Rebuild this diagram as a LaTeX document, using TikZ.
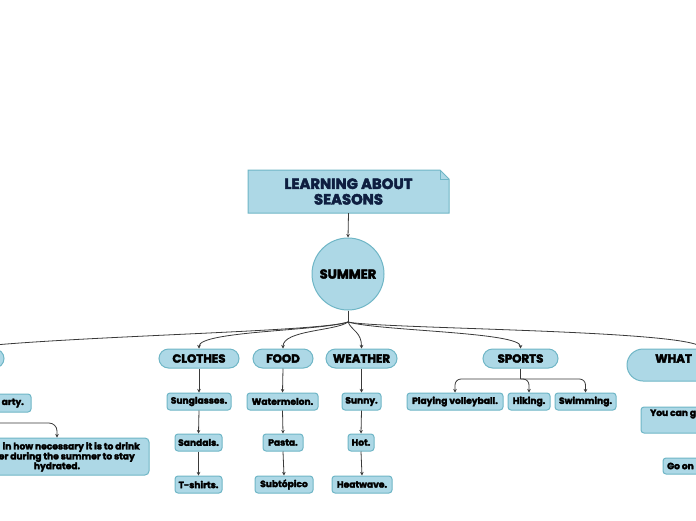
\documentclass[tikz,border=0pt]{standalone}
\usepackage{fontspec}
\setmainfont{Poppins}[BoldFeatures={FakeBold=3}]
\usetikzlibrary{arrows.meta,calc}
\definecolor{boxfill}{HTML}{ADD8E6}
\definecolor{boxline}{HTML}{6FB6C6}
\definecolor{linkc}{HTML}{3A3A3A}
\definecolor{navy}{HTML}{0E1E40}
\tikzset{
  base/.style={fill=boxfill, draw=boxline, line width=1pt, inner sep=0pt, font=\bfseries},
  pill/.style={base, rounded corners=9.5pt, minimum height=19, font=\bfseries\fontsize{11.8}{13}\selectfont},
  leaf/.style={base, rounded corners=3pt, minimum height=17, font=\bfseries\fontsize{9.1}{10}\selectfont},
  txt/.style={inner sep=0pt, font=\bfseries\fontsize{9.1}{10}\selectfont},
  link/.style={draw=linkc, line width=0.8pt, -{Stealth[length=3.5pt,width=3.5pt]}},
  plain/.style={draw=linkc, line width=0.8pt},
}
\begin{document}
\begin{tikzpicture}[x=1pt,y=-1pt]
\clip (0,0) rectangle (696,520);
\fill[white] (0,0) rectangle (696,520);

% title
\coordinate (tnw) at (248,170);
\coordinate (tse) at (449,213);
\filldraw[fill=boxfill, draw=boxline, line width=1pt]
  (tnw) -- (440,170) -- (449,179) -- (tse) -- (248,213) -- cycle;
\draw[boxline, line width=0.8pt] (440,170) -- (440,179) -- (449,179);
\node[inner sep=0pt, minimum width=201, minimum height=43, align=center, text=navy,
      font=\bfseries\fontsize{14.8}{15.5}\selectfont] (title) at (348.5,191.5) {LEARNING ABOUT\\SEASONS};

% central
\node[base, circle, minimum size=72, font=\bfseries\fontsize{13}{14}\selectfont] (summer) at (348,274) {SUMMER};
\draw[link] (title.south) -- (summer.north);

% top-level
\node[pill, minimum width=88] (left) at (-40,358.5) {};
\node[pill, minimum width=80] (clothes) at (199,358.5) {CLOTHES};
\node[pill, minimum width=60] (food) at (283,358.5) {FOOD};
\node[pill, minimum width=71] (weather) at (361.5,358.5) {WEATHER};
\node[pill, minimum width=75] (sports) at (520.5,358.5) {SPORTS};
\node[base, rounded corners=16pt, minimum width=150, minimum height=32] (what) at (702,365) {};
\node[inner sep=0pt, anchor=west, font=\bfseries\fontsize{11.8}{13}\selectfont] (whattxt) at (655,358.5) {WHAT};

\coordinate (fan) at (348,322);
\draw[plain] (summer.south) -- (fan);
\draw[plain] (fan) .. controls (320,332) and (60,336) .. (left.north);
\draw[link] (fan) .. controls (320,331) and (199,331) .. (clothes.north);
\draw[link] (fan) .. controls (336,331) and (283,330) .. (food.north);
\draw[link] (fan) .. controls (352,331) and (361.5,332) .. (weather.north);
\draw[link] (fan) .. controls (380,331) and (520.5,332) .. (sports.north);
\draw[plain] (fan) .. controls (380,329) and (702,330) .. (what.north);

% clothes column
\node[leaf, minimum width=64] (sung) at (199,401.5) {Sunglasses.};
\node[leaf, minimum width=47] (sand) at (198.5,442.5) {Sandals.};
\node[leaf, minimum width=47] (tsh) at (198.5,484.5) {T-shirts.};
\draw[link] (clothes.south) -- (sung.north);
\draw[link] (sung.south) -- (sand.north);
\draw[link] (sand.south) -- (tsh.north);

% food column
\node[leaf, minimum width=71] (water) at (282.5,401.5) {Watermelon.};
\node[leaf, minimum width=40] (pasta) at (283,442.5) {Pasta.};
\node[leaf, minimum width=58] (subt) at (284,484.5) {Subtópico};
\draw[link] (food.south) -- (water.north);
\draw[link] (water.south) -- (pasta.north);
\draw[link] (pasta.south) -- (subt.north);

% weather column
\node[leaf, minimum width=39] (sunny) at (361.5,401.5) {Sunny.};
\node[leaf, minimum width=26] (hot) at (361,442.5) {Hot.};
\node[leaf, minimum width=60] (heat) at (362,484.5) {Heatwave.};
\draw[link] (weather.south) -- (sunny.north);
\draw[link] (sunny.south) -- (hot.north);
\draw[link] (hot.south) -- (heat.north);

% sports
\node[leaf, minimum width=96] (volley) at (455,401.5) {Playing volleyball.};
\node[leaf, minimum width=42] (hike) at (529,401.5) {Hiking.};
\node[leaf, minimum width=61] (swim) at (585.5,401.5) {Swimming.};
\coordinate (sb) at (520.5,379);
\draw[plain] (sports.south) -- (sb);
\draw[link, rounded corners=6pt] (sb) -| (volley.north);
\draw[link, rounded corners=6pt] (sb) -| (hike.north);
\draw[link, rounded corners=6pt] (sb) -| (swim.north);

% right column (cut off)
\node[base, rounded corners=3pt, minimum width=120, minimum height=26] (cango) at (701,420) {};
\node[txt, anchor=west] (cangotxt) at (650,414) {You can g};
\node[base, rounded corners=3pt, minimum width=80, minimum height=16] (goon) at (703,466) {};
\node[txt, anchor=west] (goontxt) at (667,466) {Go on};

% left side (cut off)
\node[leaf, minimum width=72, minimum height=18] (party) at (-5,403) {};
\node[txt, anchor=east] (partytxt) at (24,403) {arty.};
\node[base, rounded corners=4pt, minimum width=184, minimum height=37] (drink) at (57,456.5) {};
\node[txt, anchor=east] (d1) at (140,447) {in how necessary it is to drink};
\node[txt, anchor=east] (d2) at (135,457) {er during the summer to stay};
\node[txt] (d3) at (57,467) {hydrated.};
\coordinate (lb) at (-20,423);
\draw[link, rounded corners=8pt] (lb) -| (drink.north);
\end{tikzpicture}
\end{document}
